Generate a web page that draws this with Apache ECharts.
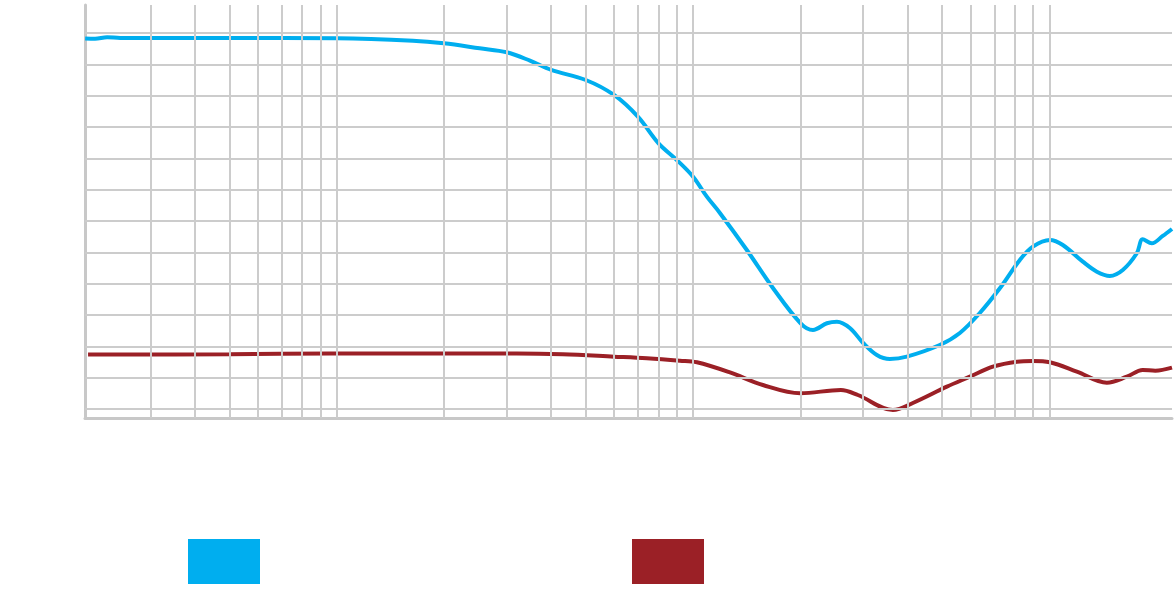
<!DOCTYPE html>
<html>
<head>
<meta charset="utf-8">
<script src="https://cdn.jsdelivr.net/npm/echarts@6/dist/echarts.min.js"></script>
<style>
html,body{margin:0;padding:0;background:#fff;}
#chart{width:1175px;height:592px;}
</style>
</head>
<body>
<div id="chart"></div>
<script>
// Frequencies (Hz) and levels for the blue curve
const blueFreq = [19.7, 21.0, 22.7, 24.7, 30, 50, 100, 163.7, 200, 252, 300, 348.6, 400, 500, 600, 700, 800, 900, 1000, 1093, 1189, 1415, 1675, 2000, 2169, 2374, 2533, 2753, 3000, 3278, 3565, 3977, 4920, 5603, 6374, 7254, 8256, 8980, 10021, 10895, 12400, 13575, 14760, 16053, 17574, 18257, 19357, 20782, 22060];
const blueLevel = [59.13, 59.08, 59.32, 59.21, 59.21, 59.21, 59.16, 58.78, 58.36, 57.56, 56.93, 55.59, 54.10, 52.50, 50.11, 46.65, 42.40, 39.74, 37.07, 33.88, 31.28, 25.37, 19.31, 13.72, 12.61, 13.68, 13.93, 12.93, 10.53, 8.62, 7.98, 8.35, 10.21, 12.13, 15.32, 19.26, 23.78, 25.90, 26.97, 26.17, 23.51, 21.91, 21.23, 22.18, 24.85, 27.08, 26.44, 27.61, 28.73];

// Frequencies (Hz) and levels for the red curve
const redFreq = [20.07, 50, 95.8, 320, 431, 600, 742, 918, 1025, 1269, 1570, 2000, 2598, 2899, 3635, 4136, 5152, 5978, 6935, 8099, 8980, 10021, 11930, 14480, 16478, 18257, 19808, 22060];
const redLevel = [8.70, 8.73, 8.86, 8.86, 8.73, 8.35, 8.09, 7.71, 7.45, 5.83, 3.83, 2.51, 3.03, 2.23, -0.16, 0.96, 3.56, 5.15, 6.75, 7.55, 7.66, 7.45, 5.95, 4.20, 5.15, 6.22, 6.11, 6.59];

// Grid line positions
const xGridValues = [30, 40, 50, 60, 70, 80, 90, 100, 200, 300, 400, 500, 600, 700, 800, 900, 1000, 2000, 3000, 4000, 5000, 6000, 7000, 8000, 9000, 10000];
const yGridValues = [0, 5, 10, 15, 20, 25, 30, 35, 40, 45, 50, 55, 60];

const seriesNames = ['Curve A', 'Curve B'];

const zip = (xs, ys) => xs.map((x, i) => [x, ys[i]]);

const chart = echarts.init(document.getElementById('chart'), null, {renderer: 'canvas'});
const gridLineStyle = {color: '#cccccc', width: 2, type: 'solid'};

chart.setOption({
  animation: false,
  backgroundColor: '#ffffff',
  grid: {left: 85, right: 3, top: 5, bottom: 174, containLabel: false},
  xAxis: {
    type: 'log', logBase: 10, min: 19.68, max: 22060,
    axisLine: {show: true, onZero: false, lineStyle: {color: '#c8c8c8', width: 3}},
    axisTick: {show: false}, axisLabel: {show: false}, splitLine: {show: false}, minorSplitLine: {show: false}
  },
  yAxis: {
    type: 'value', min: -1.44, max: 64.47,
    axisLine: {show: true, lineStyle: {color: '#c8c8c8', width: 3}},
    axisTick: {show: false}, axisLabel: {show: false}, splitLine: {show: false}
  },
  legend: [
    {data: [seriesNames[0]], left: 188, top: 539, padding: 0, icon: 'rect', itemWidth: 72, itemHeight: 45,
     formatter: () => '', itemStyle: {borderWidth: 0}, selectedMode: false},
    {data: [seriesNames[1]], left: 632, top: 539, padding: 0, icon: 'rect', itemWidth: 72, itemHeight: 45,
     formatter: () => '', itemStyle: {borderWidth: 0}, selectedMode: false}
  ],
  series: [
    {
      type: 'line', name: 'grid', data: [], z: 0, silent: true,
      markLine: {
        silent: true, symbol: 'none', animation: false,
        label: {show: false}, lineStyle: gridLineStyle,
        emphasis: {disabled: true},
        data: xGridValues.map(v => ({xAxis: v})).concat(yGridValues.map(v => ({yAxis: v})))
      }
    },
    {
      type: 'line', name: seriesNames[0], data: zip(blueFreq, blueLevel), z: 3,
      showSymbol: false, smooth: 0.35, color: '#00aeef',
      lineStyle: {color: '#00aeef', width: 4}
    },
    {
      type: 'line', name: seriesNames[1], data: zip(redFreq, redLevel), z: 3,
      showSymbol: false, smooth: 0.35, color: '#9b2026',
      lineStyle: {color: '#9b2026', width: 4}
    }
  ]
});
</script>
</body>
</html>
